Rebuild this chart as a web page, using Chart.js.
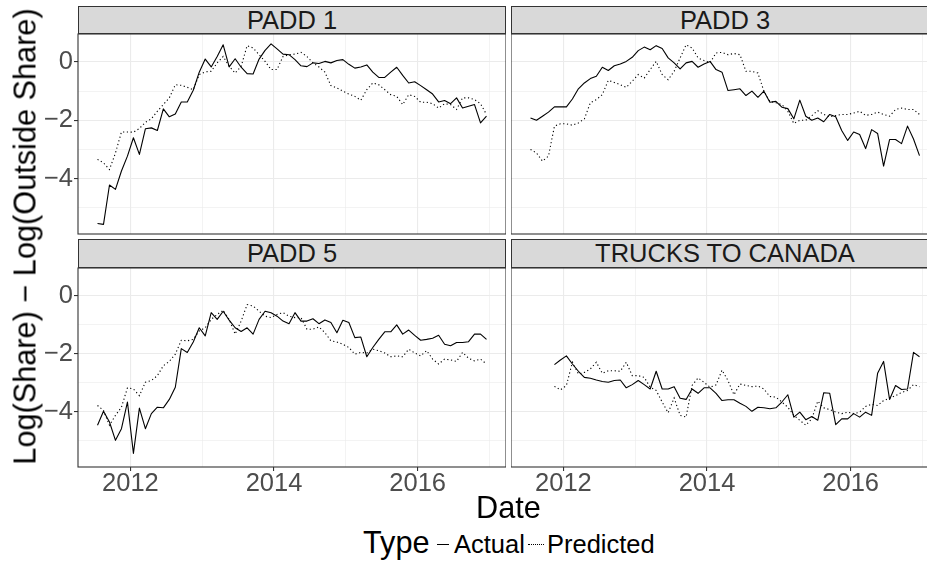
<!DOCTYPE html>
<html>
<head>
<meta charset="utf-8">
<script src="https://cdn.jsdelivr.net/npm/chart.js@4.4.1/dist/chart.umd.min.js"></script>
<style>
    body { margin: 0; background: #fff; overflow: hidden; }
    #page { position: relative; width: 927px; height: 565px; overflow: hidden; font-family: "Liberation Sans", Arial, sans-serif; }
    canvas { position: absolute; }
    .strip {
        position: absolute; box-sizing: border-box; background: #d9d9d9; border: 1.1px solid #333;
        text-align: center; color: #1a1a1a; font-size: 25.5px; white-space: nowrap;
    }
    .txt { position: absolute; white-space: nowrap; color: #000; }
    .key { position: absolute; height: 0; }
</style>
</head>
<body>
<div id="page">
    <canvas id="p1" width="468" height="232" style="left:38px;top:18px"></canvas>
    <canvas id="p3" width="428" height="232" style="left:511px;top:18px"></canvas>
    <canvas id="p5" width="468" height="245" style="left:38px;top:252px"></canvas>
    <canvas id="ptc" width="428" height="245" style="left:511px;top:252px"></canvas>

    <div class="strip" style="left:78px;top:6px;width:428px;height:28px;line-height:26px" id="s1"></div>
    <div class="strip" style="left:511px;top:6px;width:428px;height:28px;line-height:26px" id="s3"></div>
    <div class="strip" style="left:78px;top:239px;width:428px;height:29px;line-height:27px" id="s5"></div>
    <div class="strip" style="left:511px;top:239px;width:428px;height:29px;line-height:27px" id="stc"></div>

    <div class="txt" style="left:-210px;top:221px;width:470px;height:31px;line-height:31px;font-size:30.7px;text-align:center;transform:rotate(-90deg)">Log(Share) − Log(Outside Share)</div>
    <div class="txt" style="left:78px;top:492px;width:861px;line-height:31px;font-size:30.7px;text-align:center">Date</div>

    <div class="txt" style="left:363px;top:527px;line-height:31px;font-size:30.7px">Type</div>
    <div class="key" style="left:437px;top:544px;width:12px;border-top:1.1px solid #000"></div>
    <div class="txt" style="left:454px;top:532px;line-height:25.5px;font-size:25.5px">Actual</div>
    <div class="key" style="left:528px;top:544px;width:16px;border-top:1.1px dotted #000"></div>
    <div class="txt" style="left:547px;top:532px;line-height:25.5px;font-size:25.5px">Predicted</div>
</div>

<script>

const panels = ["PADD 1", "PADD 3", "PADD 5", "TRUCKS TO CANADA"];

// monthly observations, Jul 2011 .. Dec 2016
const firstYear = 2011;
const firstMonth = 7;
const monthCount = 66;

const yearTicks = [2012, 2014, 2016];
const shareTicks = [0, -2, -4];

const padd1Actual = [
    -5.54, -5.57, -4.22, -4.37, -3.74, -3.23, -2.60, -3.17, -2.29, -2.26, -2.35,
    -1.61, -1.88, -1.78, -1.37, -1.37, -0.97, -0.35, 0.10, -0.17, 0.19, 0.59,
    -0.17, 0.11, -0.18, -0.40, -0.41, 0.10, 0.40, 0.62, 0.45, 0.27, 0.25,
    0.08, -0.13, -0.16, -0.03, -0.05, 0.02, -0.03, 0.05, 0.08, -0.08, -0.21,
    -0.17, -0.10, -0.35, -0.53, -0.53, -0.35, -0.18, -0.46, -0.72, -0.68, -0.81,
    -0.95, -1.10, -1.37, -1.32, -1.43, -1.23, -1.58, -1.52, -1.46, -2.09, -1.86
];
const padd1Predicted = [
    -3.34, -3.46, -3.69, -3.12, -2.40, -2.40, -2.41, -2.28, -2.07, -1.95, -1.69,
    -1.46, -1.23, -0.78, -0.80, -0.87, -0.95, -0.43, -0.34, -0.32, -0.03, 0.19,
    -0.15, -0.38, -0.15, 0.56, 0.48, 0.25, 0.02, -0.26, -0.26, 0.19, 0.25,
    0.27, 0.33, 0.19, -0.03, -0.17, -0.35, -0.81, -0.89, -1.00, -1.10, -1.18,
    -1.31, -0.95, -0.72, -0.78, -0.95, -1.12, -1.18, -1.46, -1.12, -1.18, -1.38,
    -1.38, -1.43, -1.58, -1.43, -1.46, -1.63, -1.23, -1.23, -1.29, -1.43, -1.80
];

const padd3Actual = [
    -1.92, -2.00, -1.86, -1.72, -1.54, -1.54, -1.54, -1.27, -0.92, -0.72, -0.57,
    -0.49, -0.18, -0.29, -0.13, -0.07, 0.02, 0.16, 0.39, 0.51, 0.42, 0.56,
    0.46, 0.14, -0.03, -0.24, -0.03, 0.02, -0.18, -0.07, 0.02, -0.26, -0.35,
    -0.98, -0.95, -0.92, -1.15, -1.00, -1.21, -1.00, -1.38, -1.35, -1.55, -1.60,
    -1.95, -1.31, -1.86, -2.00, -1.92, -2.05, -1.80, -1.88, -2.35, -2.69, -2.40,
    -2.49, -2.97, -2.32, -2.45, -3.57, -2.66, -2.66, -2.80, -2.20, -2.64, -3.21
];
const padd3Predicted = [
    -3.00, -3.12, -3.40, -3.23, -2.20, -2.12, -2.12, -2.17, -2.09, -1.95, -1.40,
    -1.29, -1.12, -0.63, -0.70, -0.78, -0.87, -0.66, -0.43, -0.55, -0.26, 0.02,
    -0.43, -0.61, -0.32, 0.14, 0.59, 0.48, 0.14, 0.05, -0.03, 0.31, 0.33,
    0.25, 0.29, 0.25, -0.32, -0.32, -0.38, -1.00, -1.35, -1.40, -1.46, -1.69,
    -2.11, -2.00, -2.00, -1.84, -1.67, -1.80, -1.88, -1.84, -1.80, -1.80, -1.75,
    -1.69, -1.83, -1.80, -1.72, -1.80, -1.86, -1.63, -1.58, -1.63, -1.63, -1.80
];

const padd5Actual = [
    -4.46, -3.98, -4.35, -4.98, -4.58, -3.66, -5.43, -3.87, -4.58, -4.06, -3.84,
    -3.86, -3.57, -3.15, -1.82, -1.95, -1.59, -1.10, -1.38, -0.58, -0.81, -0.53,
    -0.84, -1.10, -1.23, -1.10, -1.32, -0.81, -0.53, -0.58, -0.70, -0.87, -0.96,
    -0.58, -0.87, -0.87, -0.79, -0.96, -0.83, -0.92, -1.27, -0.84, -0.92, -1.44,
    -1.42, -2.10, -1.78, -1.50, -1.24, -1.24, -1.00, -1.32, -1.18, -1.36, -1.53,
    -1.50, -1.46, -1.36, -1.67, -1.72, -1.61, -1.61, -1.58, -1.32, -1.32, -1.50
];
const padd5Predicted = [
    -3.78, -3.95, -4.46, -4.12, -3.84, -3.17, -3.21, -3.44, -2.98, -2.92, -2.75,
    -2.41, -2.26, -2.01, -1.53, -1.55, -1.50, -1.21, -1.10, -0.81, -0.64, -0.50,
    -0.81, -1.32, -0.87, -0.30, -0.35, -0.53, -0.70, -0.75, -0.64, -0.58, -0.70,
    -0.75, -0.75, -1.15, -1.15, -1.07, -1.27, -1.55, -1.59, -1.67, -1.78, -2.01,
    -1.95, -1.97, -1.84, -1.89, -1.97, -2.10, -2.07, -2.10, -1.84, -1.97, -2.07,
    -1.89, -2.18, -2.35, -2.18, -2.21, -2.26, -1.95, -2.15, -2.24, -2.18, -2.35
];

const trucksActual = [
    null, null, null, null, -2.37, -2.21, -2.07, -2.35, -2.60, -2.81, -2.84,
    -2.90, -2.95, -2.98, -2.92, -2.90, -3.17, -3.06, -2.92, -3.06, -3.21, -2.60,
    -3.21, -3.21, -3.13, -3.53, -3.57, -3.21, -3.36, -3.17, -3.17, -3.36, -3.61,
    -3.58, -3.58, -3.70, -3.81, -3.98, -3.84, -3.86, -3.89, -3.86, -3.66, -3.41,
    -4.18, -4.01, -4.27, -4.16, -4.29, -3.34, -3.36, -4.44, -4.24, -4.24, -4.06,
    -4.18, -4.01, -4.12, -2.67, -2.26, -3.57, -3.09, -3.23, -3.21, -1.95, -2.10
];
const trucksPredicted = [
    null, null, null, null, -3.12, -3.24, -3.09, -2.29, -2.69, -2.64, -2.52,
    -2.29, -2.67, -2.58, -2.58, -2.60, -2.29, -2.75, -2.75, -2.81, -3.15, -3.26,
    -3.66, -4.03, -3.52, -4.12, -4.18, -3.09, -2.83, -2.98, -3.15, -3.07, -2.56,
    -2.92, -3.41, -3.04, -3.09, -3.13, -3.11, -3.21, -3.47, -3.49, -3.66, -3.84,
    -4.12, -4.29, -4.46, -4.24, -3.63, -3.86, -3.92, -4.01, -4.06, -4.01, -4.06,
    -4.01, -3.81, -3.74, -3.78, -3.61, -3.53, -3.44, -3.33, -3.26, -3.06, -3.13
];

// shared (fixed) scales of the facets
const xMin = 2011.27;
const xMax = 2017.23;
const yMin = -5.9;
const yMax = 0.96;

const FONT = "'Liberation Sans', Arial, sans-serif";

// mid-month position of every observation on a decimal-year axis
const dates = [];
for (let i = 0; i < monthCount; i++) {
    const m = firstMonth - 1 + i;
    dates.push(firstYear + Math.floor(m / 12) + ((m % 12) + 0.5) / 12);
}

const panelBorder = {
    id: "panelBorder",
    afterDraw(chart) {
        const a = chart.chartArea;
        const ctx = chart.ctx;
        ctx.save();
        ctx.strokeStyle = "#333333";
        ctx.lineWidth = 1.1;
        ctx.strokeRect(a.left, a.top, a.right - a.left, a.bottom - a.top);
        ctx.restore();
    }
};

function toPoints(values) {
    return values.map((v, i) => ({ x: dates[i], y: v }));
}

function gridWidth(ctx) {
    return ctx.tick && ctx.tick.value % 2 === 0 ? 1.1 : 0.6;
}

function tickColor(ctx) {
    return ctx.tick && ctx.tick.value % 2 === 0 ? "#333333" : "rgba(0,0,0,0)";
}

function renderPanel(id, actual, predicted, showY, showX) {

    new Chart(document.getElementById(id), {
        type: "line",
        data: {
            datasets: [
                {
                    label: "Actual",
                    data: toPoints(actual),
                    borderColor: "#000",
                    borderWidth: 1.1,
                    borderJoinStyle: "round",
                    pointRadius: 0,
                    tension: 0,
                    spanGaps: false
                },
                {
                    label: "Predicted",
                    data: toPoints(predicted),
                    borderColor: "#000",
                    borderWidth: 1.1,
                    borderDash: [1.2, 2.6],
                    pointRadius: 0,
                    tension: 0,
                    spanGaps: false
                }
            ]
        },
        options: {
            responsive: false,
            animation: false,
            devicePixelRatio: 1,
            events: [],
            layout: { padding: { top: 16, bottom: showX ? 0 : 16, left: 0, right: 0 } },
            plugins: { legend: { display: false }, tooltip: { enabled: false } },
            scales: {
                x: {
                    type: "linear",
                    min: xMin,
                    max: xMax,
                    afterFit: s => { s.height = showX ? 30 : 0; },
                    border: { display: false },
                    grid: {
                        color: "#ebebeb",
                        lineWidth: gridWidth,
                        drawTicks: showX,
                        tickLength: 4,
                        tickColor: tickColor,
                        tickWidth: 1.1
                    },
                    ticks: {
                        display: showX,
                        stepSize: 1,
                        includeBounds: false,
                        autoSkip: false,
                        maxRotation: 0,
                        padding: 0,
                        color: "#4d4d4d",
                        font: { family: FONT, size: 25.5, lineHeight: 1 },
                        callback: v => yearTicks.includes(v) ? String(v) : ""
                    }
                },
                y: {
                    min: yMin,
                    max: yMax,
                    afterFit: s => { s.width = showY ? 40 : 0; },
                    border: { display: false },
                    grid: {
                        color: "#ebebeb",
                        lineWidth: gridWidth,
                        drawTicks: showY,
                        tickLength: 4,
                        tickColor: tickColor,
                        tickWidth: 1.1
                    },
                    ticks: {
                        display: showY,
                        stepSize: 1,
                        includeBounds: false,
                        padding: 1,
                        color: "#4d4d4d",
                        font: { family: FONT, size: 25.5, lineHeight: 1 },
                        callback: v => shareTicks.includes(v) ? (v < 0 ? "\u2212" + Math.abs(v) : String(v)) : ""
                    }
                }
            }
        },
        plugins: [panelBorder]
    });

}

document.getElementById("s1").textContent = panels[0];
document.getElementById("s3").textContent = panels[1];
document.getElementById("s5").textContent = panels[2];
document.getElementById("stc").textContent = panels[3];

renderPanel("p1", padd1Actual, padd1Predicted, true, false);
renderPanel("p3", padd3Actual, padd3Predicted, false, false);
renderPanel("p5", padd5Actual, padd5Predicted, true, true);
renderPanel("ptc", trucksActual, trucksPredicted, false, true);

</script>
</body>
</html>
